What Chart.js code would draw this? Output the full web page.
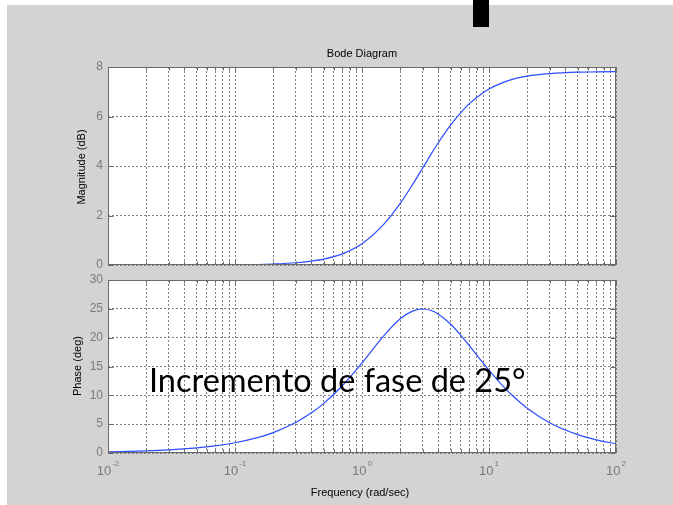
<!DOCTYPE html>
<html><head><meta charset="utf-8">
<script src="https://cdn.jsdelivr.net/npm/chart.js@4.4.0/dist/chart.umd.min.js"></script>
<style>
html,body{margin:0;padding:0;background:#fff;}
#wrap{position:relative;width:673px;height:505px;overflow:hidden;background:#fff;}
#bg{position:absolute;left:7px;top:5px;width:666px;height:500px;background:#d3d3d3;}
canvas{position:absolute;left:0;top:0;}
.lbl{position:absolute;font-family:"Liberation Sans",Arial,sans-serif;font-size:11px;color:#000;white-space:nowrap;line-height:12px;}
#note{position:absolute;left:149px;top:364px;font-family:Lato,"Open Sans",sans-serif;font-size:32.5px;line-height:32.5px;color:#000;white-space:nowrap;}
</style></head><body>
<div id="wrap">
<div id="bg"></div>
<div style="position:absolute;left:473px;top:0;width:16px;height:27px;background:#000;"></div>
<canvas id="c1" width="673" height="505"></canvas>
<canvas id="c2" width="673" height="505"></canvas>
<div class="lbl" style="left:362px;top:53px;transform:translate(-50%,-50%)">Bode Diagram</div>
<div class="lbl" style="left:81px;top:167px;transform:translate(-50%,-50%) rotate(-90deg)">Magnitude (dB)</div>
<div class="lbl" style="left:77px;top:366px;transform:translate(-50%,-50%) rotate(-90deg)">Phase (deg)</div>
<div class="lbl" style="left:360px;top:492px;transform:translate(-50%,-50%)">Frequency (rad/sec)</div>
<div id="note">Incremento de fase de 25°</div>
</div>
<script>
// ---- data ----
const freq  = [0.01,0.02,0.03,0.05,0.07,0.1,0.15,0.2,0.3,0.4,0.5,0.7,1,1.5,2,2.5,3,3.5,4,5,6,7,8,10,12,15,20,30,50,70,100];
const mag   = [0.00,0.00,0.00,0.00,0.00,0.01,0.02,0.04,0.09,0.16,0.24,0.45,0.86,1.67,2.49,3.25,3.91,4.48,4.95,5.66,6.16,6.52,6.77,7.11,7.31,7.49,7.63,7.73,7.79,7.80,7.81];
const phase = [0.18,0.36,0.53,0.89,1.25,1.78,2.66,3.54,5.28,6.96,8.60,11.66,15.63,20.44,23.27,24.61,24.97,24.71,24.07,22.32,20.41,18.62,17.0,14.36,12.35,10.14,7.77,5.26,3.18,2.28,1.60];
const xDecades = [-2,-1,0,1,2];
const xTickExpLabels = ['-2','-1','0','1','2'];
const magTicks = [0,2,4,6,8];
const phaseTicks = [0,5,10,15,20,25,30];

const GRID = '#7f7f7f';
const TICKC = '#7a7a7a';
const LINE = '#2a4cff';

function logTicks(){
  const t=[];
  for(let d=xDecades[0]; d<xDecades[xDecades.length-1]; d++){
    for(let k=1;k<=9;k++) t.push({value:k*Math.pow(10,d)});
  }
  t.push({value:Math.pow(10,xDecades[xDecades.length-1])});
  return t;
}

const framePlugin = {
  id:'frame',
  beforeDraw(chart){
    const {ctx, chartArea:a}=chart;
    ctx.save(); ctx.fillStyle='#fff';
    ctx.fillRect(a.left,a.top,a.right-a.left,a.bottom-a.top); ctx.restore();
  },
  afterDraw(chart){
    const {ctx, chartArea:a, scales}=chart;
    const L=Math.round(a.left)+0.5, R=Math.round(a.right)-0.5, T=Math.round(a.top)+0.5, B=Math.round(a.bottom)-0.5;
    ctx.save();
    ctx.strokeStyle='#6a6a6a'; ctx.lineWidth=1;
    ctx.beginPath();
    scales.x.ticks.forEach(t=>{
      const px=Math.round(scales.x.getPixelForValue(t.value))+0.5;
      const major = Math.abs(Math.log10(t.value)-Math.round(Math.log10(t.value)))<1e-9;
      const len = major?5:3;
      ctx.moveTo(px,B); ctx.lineTo(px,B-len);
      ctx.moveTo(px,T); ctx.lineTo(px,T+len);
    });
    scales.y.ticks.forEach(t=>{
      const py=Math.round(scales.y.getPixelForValue(t.value))+0.5;
      ctx.moveTo(L,py); ctx.lineTo(L+5,py);
      ctx.moveTo(R,py); ctx.lineTo(R-5,py);
    });
    ctx.stroke();
    ctx.strokeRect(L,T,R-L,B-T);
    ctx.restore();
  }
};

const xLabelPlugin = {
  id:'xlabels',
  afterDraw(chart){
    const {ctx, scales}=chart;
    ctx.save();
    ctx.fillStyle=TICKC;
    ctx.textBaseline='alphabetic';
    xDecades.forEach((d,i)=>{
      const px=scales.x.getPixelForValue(Math.pow(10,d));
      ctx.font='13px "Liberation Sans", Arial, sans-serif';
      const w1=ctx.measureText('10').width;
      ctx.font='8px "Liberation Sans", Arial, sans-serif';
      const w2=ctx.measureText(xTickExpLabels[i]).width;
      const x0=px-(w1+1+w2)/2;
      ctx.font='13px "Liberation Sans", Arial, sans-serif';
      ctx.fillText('10',x0,475);
      ctx.font='8px "Liberation Sans", Arial, sans-serif';
      ctx.fillText(xTickExpLabels[i],x0+w1+1,466);
    });
    ctx.restore();
  }
};

function makeChart(id, yvals, yticks, ymax, pad, plugins){
  return new Chart(document.getElementById(id), {
    type:'line',
    data:{datasets:[{
      data: freq.map((f,i)=>({x:f,y:yvals[i]})),
      borderColor:LINE, borderWidth:1.2, pointRadius:0, fill:false,
      cubicInterpolationMode:'monotone'
    }]},
    options:{
      responsive:false, animation:false, devicePixelRatio:1,
      layout:{padding:pad},
      plugins:{legend:{display:false}, tooltip:{enabled:false}, title:{display:false}},
      scales:{
        x:{type:'logarithmic', min:freq[0], max:freq[freq.length-1],
           afterBuildTicks:s=>{s.ticks=logTicks();},
           afterFit:s=>{s.height=0;},
           ticks:{display:false, autoSkip:false},
           grid:{color:GRID, lineWidth:1, drawTicks:false, borderDash:[2,2]},
           border:{display:false, dash:[2,2]}},
        y:{min:0, max:ymax,
           afterBuildTicks:s=>{s.ticks=yticks.map(v=>({value:v}));},
           afterFit:s=>{s.width=108;},
           ticks:{color:TICKC, padding:5, font:{family:'"Liberation Sans", Arial, sans-serif', size:12}},
           grid:{color:GRID, lineWidth:1, drawTicks:false, borderDash:[2,2]},
           border:{display:false, dash:[2,2]}}
      }
    },
    plugins:plugins
  });
}

makeChart('c1', mag, magTicks, 8, {left:0, top:67, right:57, bottom:240}, [framePlugin]);
makeChart('c2', phase, phaseTicks, 30, {left:0, top:280, right:57, bottom:52}, [framePlugin, xLabelPlugin]);
</script>
</body></html>
